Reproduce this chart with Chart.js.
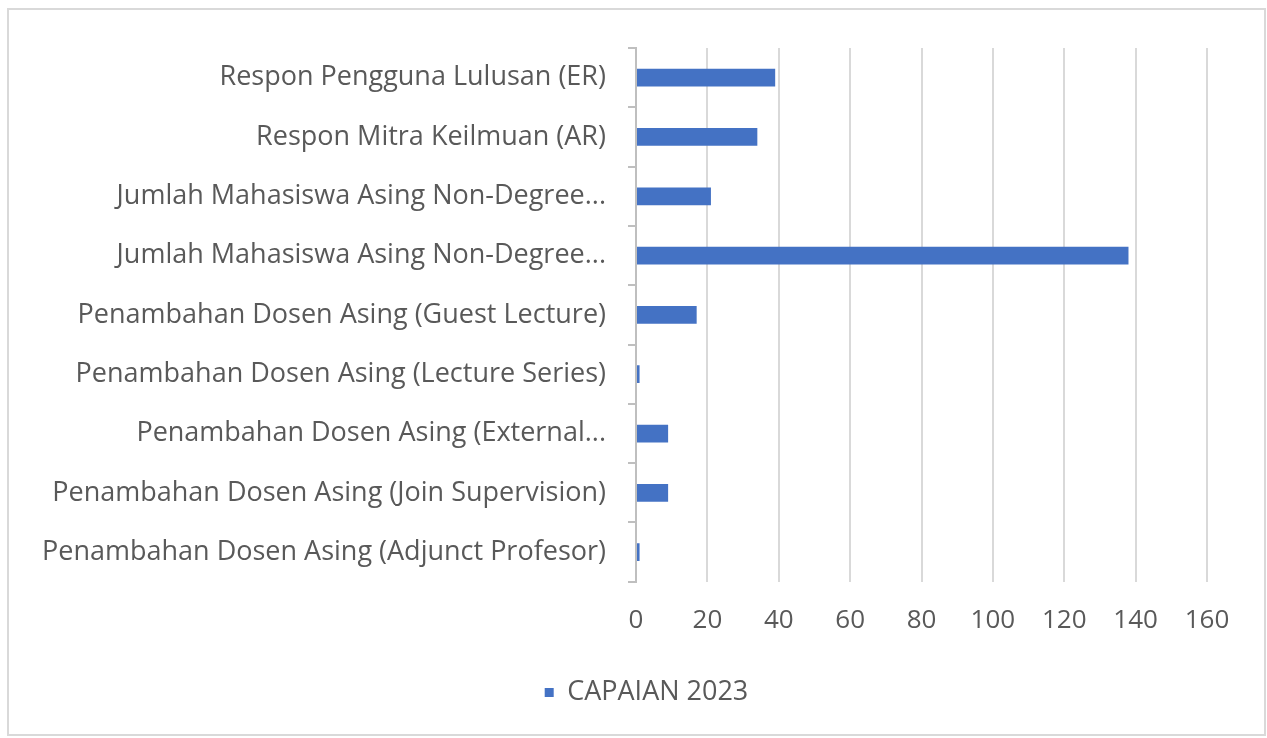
<!DOCTYPE html>
<html lang="en">
<head>
    <meta charset="UTF-8">
    <title>Capaian 2023</title>
    <style>
        html, body { margin: 0; padding: 0; background: #fff; }
        .frame {
            position: absolute;
            left: 7px; top: 8px;
            width: 1259px; height: 728px;
            border: 2px solid #d9d9d9;
            box-sizing: border-box;
        }
        .wrap {
            position: absolute;
            left: 0; top: 0;
            width: 1267px; height: 738px;
        }
    </style>
</head>
<body>
    <div class="frame"></div>
    <div class="wrap">
        <canvas id="barChart" width="1267" height="738"></canvas>
    </div>

    <script src="https://cdn.jsdelivr.net/npm/chart.js"></script>
    <script>
        const categories = [
            'Respon Pengguna Lulusan (ER)',
            'Respon Mitra Keilmuan (AR)',
            'Jumlah Mahasiswa Asing Non-Degree...',
            'Jumlah Mahasiswa Asing Non-Degree...',
            'Penambahan Dosen Asing (Guest Lecture)',
            'Penambahan Dosen Asing (Lecture Series)',
            'Penambahan Dosen Asing (External...',
            'Penambahan Dosen Asing (Join Supervision)',
            'Penambahan Dosen Asing (Adjunct Profesor)'
        ];
        const capaian2023 = [39, 34, 21, 138, 17, 1, 9, 9, 1];
        const seriesName = 'CAPAIAN 2023';
        const xTicks = [0, 20, 40, 60, 80, 100, 120, 140, 160];

        const textColor = '#595959';
        const fontFamily = '"Open Sans", "Noto Sans", sans-serif';

        // nudge the legend so it sits under the middle of the frame like the original
        const legendShift = {
            id: 'legendShift',
            afterLayout(chart) {
                chart.legend.left += 43;
                chart.legend.right += 43;
            }
        };

        const ctx = document.getElementById('barChart').getContext('2d');
        const barChart = new Chart(ctx, {
            type: 'bar',
            data: {
                labels: categories,
                datasets: [{
                    label: seriesName,
                    data: capaian2023,
                    backgroundColor: '#4472c4',
                    borderWidth: 0,
                    categoryPercentage: 1,
                    barPercentage: 0.3
                }]
            },
            options: {
                indexAxis: 'y',
                responsive: false,
                animation: false,
                layout: {
                    padding: { left: 0, right: 60, top: 48, bottom: 22 }
                },
                scales: {
                    x: {
                        min: 0,
                        max: 160,
                        afterBuildTicks: (scale) => {
                            scale.ticks = xTicks.map(v => ({ value: v }));
                        },
                        grid: {
                            color: '#d9d9d9',
                            lineWidth: 2,
                            drawTicks: false
                        },
                        border: { display: false },
                        ticks: {
                            color: textColor,
                            padding: 23,
                            font: { family: fontFamily, size: 26 }
                        }
                    },
                    y: {
                        afterFit: (scale) => { scale.width = 636; },
                        grid: {
                            offset: true,
                            drawOnChartArea: false,
                            drawTicks: true,
                            tickLength: 8,
                            color: '#bfbfbf',
                            lineWidth: 2
                        },
                        border: { color: '#bfbfbf', width: 2 },
                        ticks: {
                            color: textColor,
                            padding: 22,
                            autoSkip: false,
                            font: { family: fontFamily, size: 27 }
                        }
                    }
                },
                plugins: {
                    legend: {
                        position: 'bottom',
                        labels: {
                            color: textColor,
                            usePointStyle: true,
                            pointStyle: 'rect',
                            boxWidth: 9,
                            boxHeight: 9,
                            padding: 20,
                            font: { family: fontFamily, size: 27 }
                        }
                    },
                    tooltip: { enabled: false }
                }
            },
            plugins: [legendShift]
        });
    </script>
</body>
</html>
